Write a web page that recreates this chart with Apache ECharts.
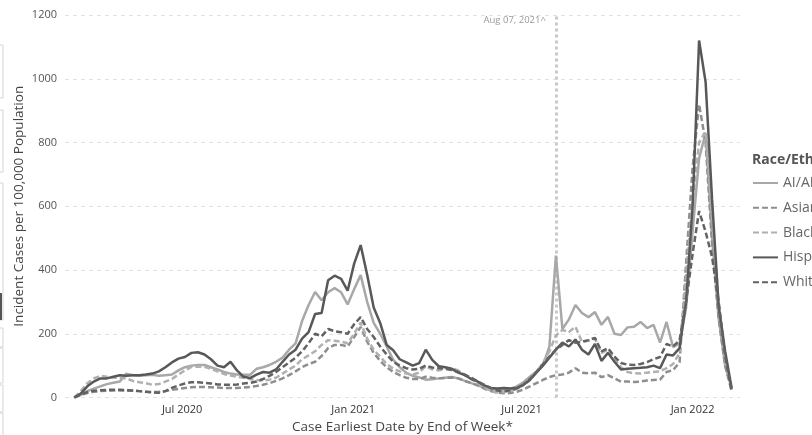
<!DOCTYPE html>
<html>
<head>
<meta charset="utf-8">
<script src="https://cdn.jsdelivr.net/npm/echarts@6/dist/echarts.min.js"></script>
<style>
html,body{margin:0;padding:0;background:#fff;}
#c{width:812px;height:435px;}
</style>
</head>
<body>
<div id="c"></div>
<script>
// ---- data ----
const START_WEEK = '2020-03-07'; // first week-ending date (weekly, Saturdays)
const seriesNames = ['AI/AN', 'Asian', 'Black', 'Hispanic', 'White'];
const ai = [0,8,20,28,35,42,46,50,75,70,
  68,70,71,68,70,72,85,95,100,102,
  102,95,88,80,75,72,71,71,90,95,
  102,112,125,150,170,240,290,331,305,330,
  343,330,292,340,384,300,234,200,160,118,
  95,78,68,63,56,57,60,62,64,60,
  52,45,38,30,25,24,25,28,35,48,
  65,82,100,160,445,215,245,290,265,252,
  268,228,253,200,196,220,222,237,218,228,
  172,237,158,170,280,520,750,830,500,250,
  100,30];
const asian = [0,8,14,18,20,21,22,22,22,21,
  20,18,17,18,20,24,27,30,32,33,
  33,32,31,30,30,30,31,33,36,40,
  45,52,60,70,82,95,105,112,130,155,
  165,165,160,190,221,175,140,115,95,80,
  70,62,58,58,65,62,60,61,63,60,
  52,45,38,28,20,15,13,14,18,25,
  35,45,55,64,70,72,78,92,78,76,
  78,64,70,60,50,50,49,50,53,55,
  56,80,86,110,420,720,920,800,480,250,
  100,20];
const black = [0,20,45,60,68,65,63,61,60,52,
  48,45,40,42,50,58,72,85,96,97,
  96,90,82,74,69,65,62,58,54,53,
  56,62,75,88,100,120,132,145,165,180,
  178,175,170,200,235,185,150,128,105,90,
  82,75,72,78,98,88,85,90,92,85,
  70,58,45,32,20,16,17,20,28,38,
  55,80,108,145,195,212,205,222,175,178,
  185,140,150,120,95,80,76,75,78,80,
  82,92,105,140,380,620,800,835,560,300,
  120,25];
const hispanic = [0,12,35,50,60,60,65,70,68,70,
  70,72,75,82,95,110,122,127,140,142,
  135,120,100,95,112,85,65,61,72,80,
  78,88,112,135,150,185,205,262,265,368,
  382,372,335,420,478,385,282,234,165,148,
  120,110,100,108,150,118,98,95,90,78,
  70,58,50,38,30,28,30,28,30,40,
  55,78,100,125,150,172,160,182,150,135,
  168,115,140,112,88,90,92,93,95,100,
  92,135,132,155,300,600,1120,990,620,290,
  145,30];
const white = [0,10,17,21,23,24,24,24,23,22,
  20,18,16,15,20,30,38,44,48,48,
  46,44,41,40,40,41,44,46,50,58,
  68,80,95,110,125,145,170,200,192,215,
  208,205,200,230,252,215,190,160,135,112,
  100,92,88,90,100,94,92,90,86,80,
  72,62,50,40,30,22,20,22,28,40,
  58,80,105,128,150,165,180,172,175,180,
  187,145,155,128,108,103,102,105,111,120,
  127,168,160,180,300,450,585,520,440,300,
  130,20];
const xTickDates = ['2020-07-01', '2021-01-01', '2021-07-01', '2022-01-01'];
const xTickLabels = ['Jul 2020', 'Jan 2021', 'Jul 2021', 'Jan 2022'];
const yTicks = [0, 200, 400, 600, 800, 1000, 1200];
const refLineDate = '2021-08-07';
const refLineLabel = 'Aug 07, 2021^';
const legendTitle = 'Race/Ethnicity';
const axisMinDate = '2020-02-26';
const axisMaxDate = '2022-02-21';

// ---- build ----
const ts = s => { const [y,m,d] = s.split('-').map(Number); return Date.UTC(y, m-1, d); };
const DAY = 86400000;
const weekDates = hispanic.map((_, i) => ts(START_WEEK) + i * 7 * DAY);
const values = [ai, asian, black, hispanic, white];
const styles = [
  {color:'#a8a8a8', type:'solid'},
  {color:'#8e8e8e', type:[6,3]},
  {color:'#b0b0b0', type:[6,3]},
  {color:'#585858', type:'solid'},
  {color:'#626262', type:[6,3]}
];
const tickTs = xTickDates.map(ts);
const FONT = '"Segoe UI","Open Sans","Noto Sans",sans-serif';

const series = seriesNames.map((n, k) => ({
  name: n,
  type: 'line',
  symbol: 'none',
  showSymbol: false,
  data: values[k].map((v, i) => [weekDates[i], v]),
  lineStyle: {color: styles[k].color, type: styles[k].type, width: 2.5},
  itemStyle: {color: styles[k].color},
  z: 3
}));
series[0].markLine = {
  silent: true,
  symbol: ['none', 'none'],
  label: {show: false},
  lineStyle: {color: '#c9c9c9', type: [3, 3], width: 3},
  data: [{xAxis: ts(refLineDate)}],
  z: 1
};

const chart = echarts.init(document.getElementById('c'), null, {renderer: 'canvas'});
const option = {
  animation: false,
  textStyle: {fontFamily: FONT},
  grid: {left: 65, right: 72, top: 15, bottom: 37.5, containLabel: false, outerBoundsMode: 'none'},
  xAxis: {
    type: 'value',
    min: ts(axisMinDate),
    max: ts(axisMaxDate),
    axisLine: {show: false},
    axisTick: {show: false},
    splitLine: {show: false},
    axisLabel: {
      customValues: tickTs,
      formatter: v => { const k = tickTs.indexOf(v); return k >= 0 ? xTickLabels[k] : ''; },
      color: '#333', fontSize: 11, margin: 7, fontFamily: FONT
    },
    name: 'Case Earliest Date by End of Week*',
    nameLocation: 'middle',
    nameGap: 20,
    nameTextStyle: {fontSize: 13.5, color: '#444', fontFamily: FONT}
  },
  yAxis: {
    type: 'value',
    min: yTicks[0], max: yTicks[yTicks.length-1], interval: 200,
    axisLine: {show: false},
    axisTick: {show: false},
    splitLine: {lineStyle: {color: '#e2e2e2', type: [4, 4], width: 1}},
    axisLabel: {color: '#555', fontSize: 11, margin: 8, fontFamily: FONT, formatter: v => String(v)},
    name: 'Incident Cases per 100,000 Population',
    nameLocation: 'middle',
    nameGap: 39,
    nameMoveOverlap: false,
    nameTextStyle: {fontSize: 13.5, color: '#444', fontFamily: FONT}
  },
  legend: {
    orient: 'vertical',
    left: 747, top: 171,
    padding: 5,
    itemWidth: 25, itemHeight: 14, itemGap: 10.8,
    itemStyle: {opacity: 0},
    textStyle: {color: '#666', fontSize: 14, fontFamily: FONT},
    data: seriesNames
  },
  series: series
};
chart.setOption(option);

const p = chart.convertToPixel({xAxisIndex: 0, yAxisIndex: 0}, [ts(refLineDate), 1200]);
chart.setOption({
  graphic: [
    {type:'text', x: p[0] - 10, y: p[1] + 5, style: {text: refLineLabel, fill: '#999', fontSize: 9.5, fontFamily: FONT, align: 'right', verticalAlign: 'middle'}, z: 10},
    {type:'text', x: 752, y: 160, style: {text: legendTitle, fill: '#555', fontSize: 14, fontWeight: 'bold', fontFamily: FONT, verticalAlign: 'middle'}, z: 10},
    {type:'rect', shape:{x:-6, y:45, width:9, height:53}, style:{fill:'none', stroke:'#d5d5d5', lineWidth:1}},
    {type:'rect', shape:{x:-6, y:110, width:9, height:62}, style:{fill:'none', stroke:'#d5d5d5', lineWidth:1}},
    {type:'rect', shape:{x:-6, y:183, width:9, height:137}, style:{fill:'none', stroke:'#d5d5d5', lineWidth:1}},
    {type:'rect', shape:{x:0, y:293, width:2, height:27}, style:{fill:'#555'}},
    {type:'rect', shape:{x:-6, y:328, width:9, height:19}, style:{fill:'none', stroke:'#d5d5d5', lineWidth:1}},
    {type:'rect', shape:{x:-6, y:348, width:9, height:35}, style:{fill:'none', stroke:'#d5d5d5', lineWidth:1}},
    {type:'rect', shape:{x:-6, y:385, width:9, height:27}, style:{fill:'none', stroke:'#d5d5d5', lineWidth:1}},
    {type:'rect', shape:{x:-6, y:413, width:9, height:30}, style:{fill:'none', stroke:'#d5d5d5', lineWidth:1}}
  ]
});
</script>
</body>
</html>
